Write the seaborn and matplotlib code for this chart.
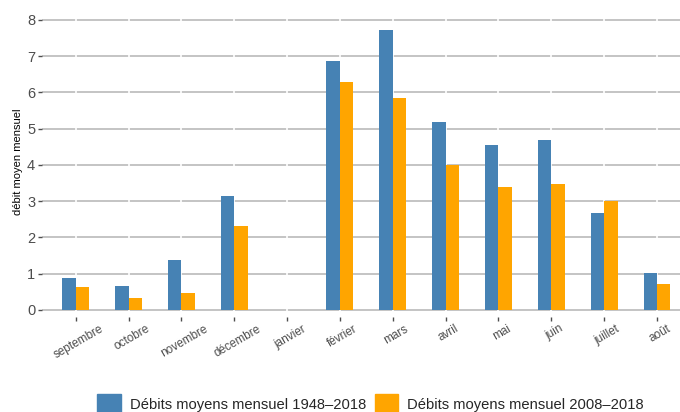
import matplotlib
matplotlib.use("Agg")
import matplotlib.pyplot as plt
import matplotlib.patches as mpatches
import matplotlib.transforms as mtransforms
import seaborn as sns
import pandas as pd

months = ["septembre", "octobre", "novembre", "décembre", "janvier", "février",
          "mars", "avril", "mai", "juin", "juillet", "août"]
debit_1948_2018 = [0.89, 0.67, 1.39, 3.15, 0.0, 6.88, 7.72, 5.19, 4.55, 4.69, 2.68, 1.03]
debit_2008_2018 = [0.63, 0.34, 0.48, 2.33, 0.0, 6.30, 5.85, 4.01, 3.39, 3.48, 3.01, 0.72]
series_names = ["Débits moyens mensuel 1948–2018", "Débits moyens mensuel 2008–2018"]
colors = ["#4682B4", "#FFA500"]

df = pd.DataFrame({
    "mois": months * 2,
    "debit": debit_1948_2018 + debit_2008_2018,
    "serie": [series_names[0]] * 12 + [series_names[1]] * 12,
})

sns.set_style("white")
plt.rcParams["font.family"] = ["Liberation Sans", "DejaVu Sans"]

fig = plt.figure(figsize=(6.8, 4.12), dpi=100)
ax = fig.add_axes([0.062, 0.23, 0.938, 0.7567])

sns.barplot(data=df, x="mois", y="debit", hue="serie", order=months,
            hue_order=series_names, palette=colors, width=0.51, gap=0,
            saturation=1, linewidth=0, ax=ax, legend=False, zorder=3)

ax.set_ylim(-0.2, 8.4)
ax.set_xlim(-0.634, 11.435)
ax.set_yticks(range(0, 9))

# horizontal gray grid, white vertical lines at categories
ax.yaxis.grid(True, color="#c4c4c4", linewidth=1.4, zorder=1)
for i in range(len(months)):
    ax.axvline(i, color="white", linewidth=1.2, zorder=2)
ax.set_axisbelow(True)

for s in ax.spines.values():
    s.set_visible(False)

ax.tick_params(axis="y", length=3, width=1, color="#4d4d4d", labelcolor="#4d4d4d",
               labelsize=10.5, pad=2, left=True)
ax.tick_params(axis="x", length=3, width=1, color="#4d4d4d", labelcolor="#4d4d4d",
               labelsize=8.5, pad=1, bottom=True)
shift = mtransforms.ScaledTranslation(3 / 100, 0, fig.dpi_scale_trans)
for lab in ax.get_xticklabels():
    lab.set_rotation(30)
    lab.set_ha("center")
    lab.set_transform(lab.get_transform() + shift)

ax.set_xlabel("")
ax.set_ylabel("débit moyen mensuel", fontsize=8, color="black", labelpad=3)

handles = [mpatches.Patch(color=c, label=n) for c, n in zip(colors, series_names)]
fig.legend(handles=handles, loc="lower center", bbox_to_anchor=(0.545, -0.035), ncol=2,
           frameon=False, fontsize=10.6, handlelength=1.6, handleheight=1.6,
           handletextpad=0.6, columnspacing=0.6)

fig.savefig("out.png", dpi=100)
